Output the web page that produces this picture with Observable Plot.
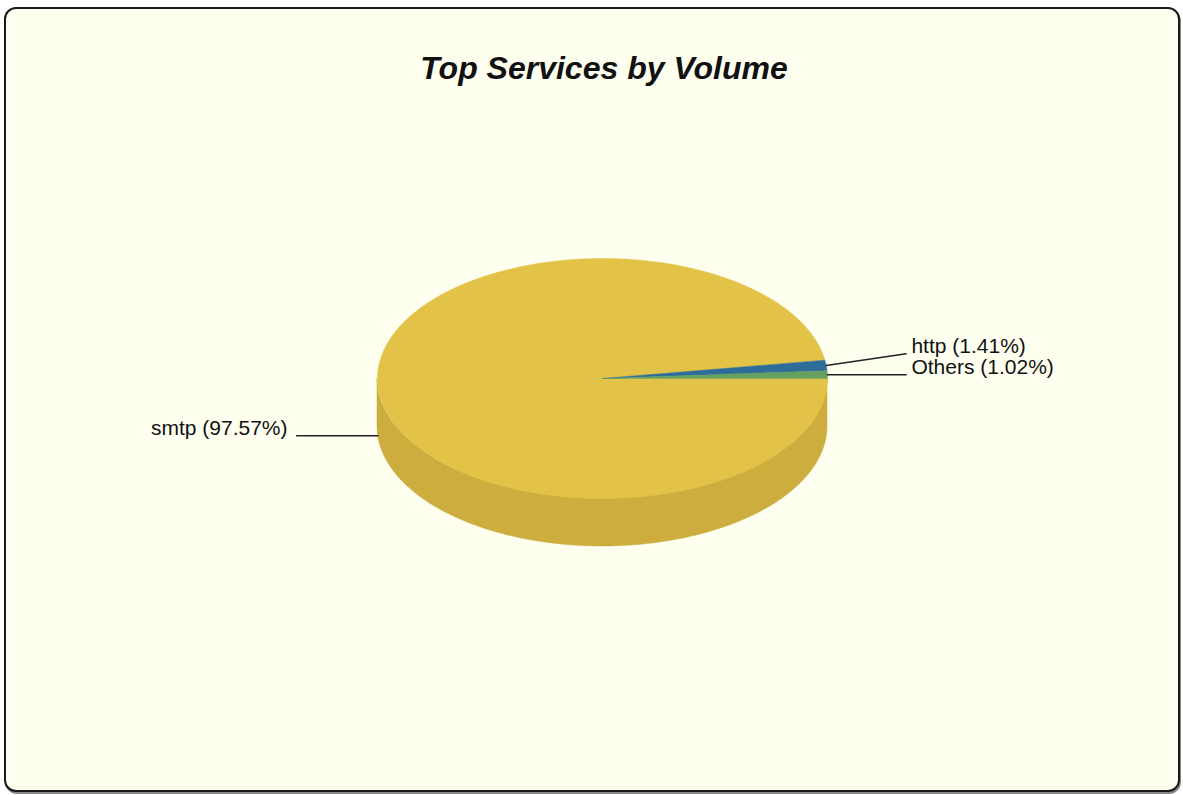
<!DOCTYPE html>
<html><head><meta charset="utf-8">
<script src="https://cdn.jsdelivr.net/npm/d3@7"></script>
<script src="https://cdn.jsdelivr.net/npm/@observablehq/plot@0.6"></script>
<style>
html,body{margin:0;padding:0;background:#fff;}
#frame{position:absolute;left:4px;top:7px;width:1176px;height:785px;box-sizing:border-box;border:2px solid #1a1a1a;border-radius:12px;background:#FFFFF0;box-shadow:1px 2px 0 #888;overflow:hidden;}
#title{height:100px;box-sizing:border-box;padding-top:43px;padding-left:24px;text-align:center;font:italic bold 32px "Liberation Sans",Arial,sans-serif;line-height:1;color:#111;}
#chart svg{display:block;}
</style></head><body>
<div id="frame"><div id="title">Top Services by Volume</div><div id="chart"></div></div>
<script>
// ---- data ----
const services = ["smtp", "http", "Others"];
const shares = [97.57, 1.41, 1.02];
const topColors = ["#E2C247", "#2E6C9A", "#67A05E"];
const sideColors = ["#CCAD3E", "#285E86", "#5A8C52"];

const data = services.map((s, i) => ({service: s, share: shares[i], i}));
const depth = 0.4;
const TAU = 2 * Math.PI;
const arcs = d3.pie().sort(null).value(d => d.share)(data);

const tops = [], sides = [], anchors = [];
arcs.forEach(p => {
  const i = p.data.i;
  const t0 = TAU - p.endAngle, t1 = TAU - p.startAngle;
  const n = Math.max(4, Math.ceil((t1 - t0) / 0.01));
  const poly = [{x: 0, y: 0}];
  for (let k = 0; k <= n; k++) {
    const t = t0 + (t1 - t0) * k / n;
    poly.push({x: Math.cos(t), y: Math.sin(t)});
  }
  poly.push({x: 0, y: 0});
  tops.push({i, poly});
  const s0 = Math.max(t0, Math.PI), s1 = Math.min(t1, TAU);
  if (s1 > s0) {
    const m = Math.max(4, Math.ceil((s1 - s0) / 0.01));
    const side = [];
    for (let k = 0; k <= m; k++) {
      const t = s0 + (s1 - s0) * k / m;
      side.push({x: Math.cos(t), y1: Math.sin(t), y2: Math.sin(t) - depth});
    }
    sides.push({i, side});
  }
  const mid = (t0 + t1) / 2;
  const ax = Math.cos(mid), ay = Math.sin(mid) - (Math.sin(mid) < 0 ? depth : 0);
  anchors.push({i, label: `${p.data.service} (${p.data.share.toFixed(2)}%)`, ax, ay, right: ax >= 0});
});

// resolve overlap of labels on each side
const gap = 0.175;
["right", "left"].forEach(side => {
  const list = anchors.filter(a => (side === "right") === a.right).sort((a, b) => a.ay - b.ay);
  let prev = -Infinity;
  list.forEach(a => { a.ly = Math.max(a.ay, prev + gap); prev = a.ly; });
});
anchors.forEach(a => { a.lx = a.right ? 1.35 : -1.36; a.tx = a.right ? 1.373 : -1.4; });

const leaders = anchors.flatMap(a => [{i: a.i, x: a.ax, y: a.ay}, {i: a.i, x: a.lx, y: a.ly}]);

const textStyle = {x: "tx", y: "ly", text: "label", lineAnchor: "middle", dy: -7, fontSize: 21, fontFamily: "Liberation Sans, Arial, sans-serif", fill: "#111"};
const marks = [];
sides.forEach(s => marks.push(Plot.areaY(s.side, {x: "x", y1: "y1", y2: "y2", fill: sideColors[s.i], stroke: sideColors[s.i], strokeWidth: 0.5})));
tops.forEach(t => marks.push(Plot.line(t.poly, {x: "x", y: "y", fill: topColors[t.i], stroke: topColors[t.i], strokeWidth: 0.5})));
marks.push(Plot.line(leaders, {x: "x", y: "y", z: "i", stroke: "#222", strokeWidth: 1.5}));
marks.push(Plot.text(anchors.filter(a => a.right), {...textStyle, textAnchor: "start"}));
marks.push(Plot.text(anchors.filter(a => !a.right), {...textStyle, textAnchor: "end"}));

const chart = Plot.plot({
  width: 1172, height: 681, margin: 0,
  x: {domain: [-1, 1], range: [371, 821], axis: null},
  y: {domain: [-1, 1], range: [389, 149], axis: null},
  style: {background: "transparent", overflow: "visible"},
  marks
});
document.getElementById("chart").appendChild(chart);
</script>
</body></html>
